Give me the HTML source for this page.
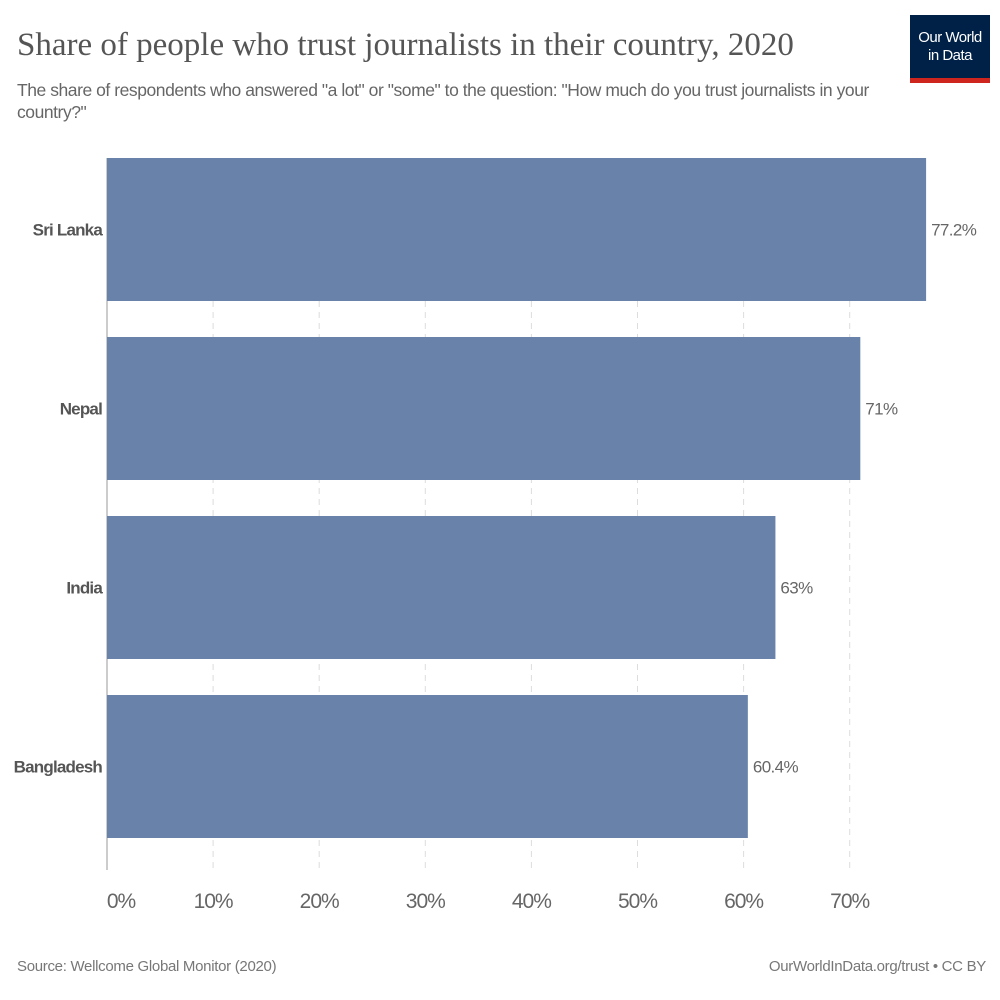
<!DOCTYPE html>
<html><head><meta charset="utf-8"><style>
body{margin:0;background:#fff;width:1000px;height:1000px;overflow:hidden;position:relative;font-family:"Liberation Sans",sans-serif}
.t{position:absolute;left:17px;top:27px;font-family:"Liberation Serif",serif;font-size:33px;color:#555}
.s{position:absolute;left:17px;top:79px;width:900px;font-size:17.5px;line-height:22px;color:#666;letter-spacing:-0.45px}
.logo{position:absolute;left:910px;top:15px;width:80px;height:68px;background:#002147;color:#fff;font-size:15px;line-height:18px;text-align:center;box-sizing:border-box;padding-top:14px;border-bottom:5px solid #ce261e;letter-spacing:-0.5px}
.f{position:absolute;top:958px;font-size:15px;color:#777;letter-spacing:-0.3px}
</style></head><body>
<div class="t">Share of people who trust journalists in their country, 2020</div>
<div class="s">The share of respondents who answered "a lot" or "some" to the question: "How much do you trust journalists in your country?"</div>
<div class="logo">Our World<br>in Data</div>
<svg id="c" width="1000" height="1000" style="position:absolute;left:0;top:0"></svg>
<div class="f" style="left:17px">Source: Wellcome Global Monitor (2020)</div>
<div class="f" style="right:14px">OurWorldInData.org/trust • CC BY</div>
<script>
const categories=["Sri Lanka","Nepal","India","Bangladesh"];
const values=[77.2,71,63,60.4];
const valueLabels=["77.2%","71%","63%","60.4%"];
const ticks=[0,10,20,30,40,50,60,70];
const NS="http://www.w3.org/2000/svg",svg=document.getElementById('c');
const x=v=>107+v*10.61;
const top0=158,band=179,bh=143;
function mk(t,a,txt){const e=document.createElementNS(NS,t);for(const k in a)e.setAttribute(k,a[k]);if(txt!=null)e.textContent=txt;svg.appendChild(e);return e;}
ticks.forEach(t=>{
 if(t>0){const g=mk('line',{x1:x(t),x2:x(t),y1:top0,y2:870,stroke:'#ddd','stroke-dasharray':'6,5'});
 
 }
 const l=mk('text',{x:x(t)+(t==0?14:0),y:908,'text-anchor':'middle','font-size':21,'letter-spacing':'-1',fill:'#666'},t+'%');
 
 
});
const ax=mk('line',{x1:107,x2:107,y1:top0,y2:870,stroke:'#999'});


categories.forEach((c,i)=>{
 const y=top0+i*band;
 const r=mk('rect',{x:x(0),y:y,width:x(values[i])-x(0),height:bh,fill:'#6882aa'});
 
 
 const n=mk('text',{x:102,y:y+bh/2+6,'text-anchor':'end','font-size':17,'font-weight':'bold','letter-spacing':'-0.8',fill:'#555'},c);
 
 
 const v=mk('text',{x:x(values[i])+5,y:y+bh/2+6,'font-size':17,'letter-spacing':'-0.6',fill:'#666'},valueLabels[i]);
 
 
});
</script>
</body></html>
